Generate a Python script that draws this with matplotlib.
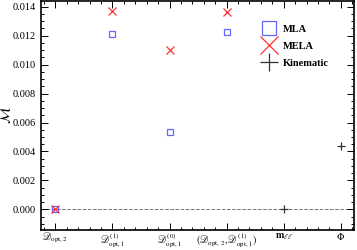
import matplotlib

matplotlib.use('Agg')
import matplotlib.pyplot as plt
from matplotlib.ticker import MultipleLocator

categories = [
    r'$\mathscr{D}_{\rm opt,\,2}$',
    r'$\mathscr{D}^{(1)}_{\rm opt,\,1}$',
    r'$\mathscr{D}^{(0)}_{\rm opt,\,1}$',
    r'$(\mathscr{D}_{\rm opt,\,2},\mathscr{D}^{(1)}_{\rm opt,\,1})$',
    r'$\mathbf{m}_{\ell\ell}$',
    r'$\Phi$',
]
mla_x = [0, 1, 2, 3]
mla_values = [0.0, 0.01215, 0.00532, 0.01229]
mela_x = [0, 1, 2, 3]
mela_values = [0.0, 0.01371, 0.0110, 0.01365]
kin_x = [4, 5]
kin_values = [0.0, 0.00438]

plt.rcParams['font.family'] = ['Liberation Serif', 'DejaVu Serif']
plt.rcParams['mathtext.fontset'] = 'stix'

fig = plt.figure(figsize=(3.57, 2.5), dpi=100)
ax = fig.add_axes([41 / 357, 20 / 250, 313 / 357, 229 / 250])

ax.axhline(0, color='#777777', linestyle='--', linewidth=0.7, zorder=1)
ax.plot(mla_x, mla_values, linestyle='none', marker='s', markersize=5,
        markerfacecolor='none', markeredgecolor='#6666ff',
        markeredgewidth=0.9, label='MLA', zorder=3)
ax.plot(mela_x, mela_values, linestyle='none', marker='x', markersize=6,
        color='#ff3333', markeredgewidth=0.9, label='MELA', zorder=4)
ax.plot(kin_x, kin_values, linestyle='none', marker='+', markersize=6,
        color='#333333', markeredgewidth=0.9, label='Kinematic', zorder=4)

ax.set_xlim(-0.25, 5.23)
ax.set_ylim(-0.00143, 0.0144)
ax.set_xticks(range(len(categories)))
ax.set_xticklabels(categories, fontsize=7)
ax.xaxis.set_minor_locator(MultipleLocator(0.2))
ax.yaxis.set_major_locator(MultipleLocator(0.002))
ax.yaxis.set_minor_locator(MultipleLocator(0.0005))
ax.yaxis.set_major_formatter(matplotlib.ticker.FormatStrFormatter('%.3f'))
ax.tick_params(axis='y', labelsize=7.5)
ax.tick_params(which='both', direction='in', top=True, right=True,
               width=0.7)
ax.tick_params(which='major', length=5)
ax.tick_params(which='minor', length=2.5)
ax.tick_params(axis='x', pad=1)
for spine in ax.spines.values():
    spine.set_linewidth(1.2)

ax.set_ylabel(r'$\mathcal{M}$', fontsize=10, labelpad=0)

ax.legend(loc='upper right', bbox_to_anchor=(0.94, 0.925), frameon=False,
          markerscale=2.1, handlelength=1.6, handletextpad=0.5,
          labelspacing=0.75, borderaxespad=0.2,
          prop={'weight': 'bold', 'size': 7.5})

fig.savefig('out.png', dpi=100)
